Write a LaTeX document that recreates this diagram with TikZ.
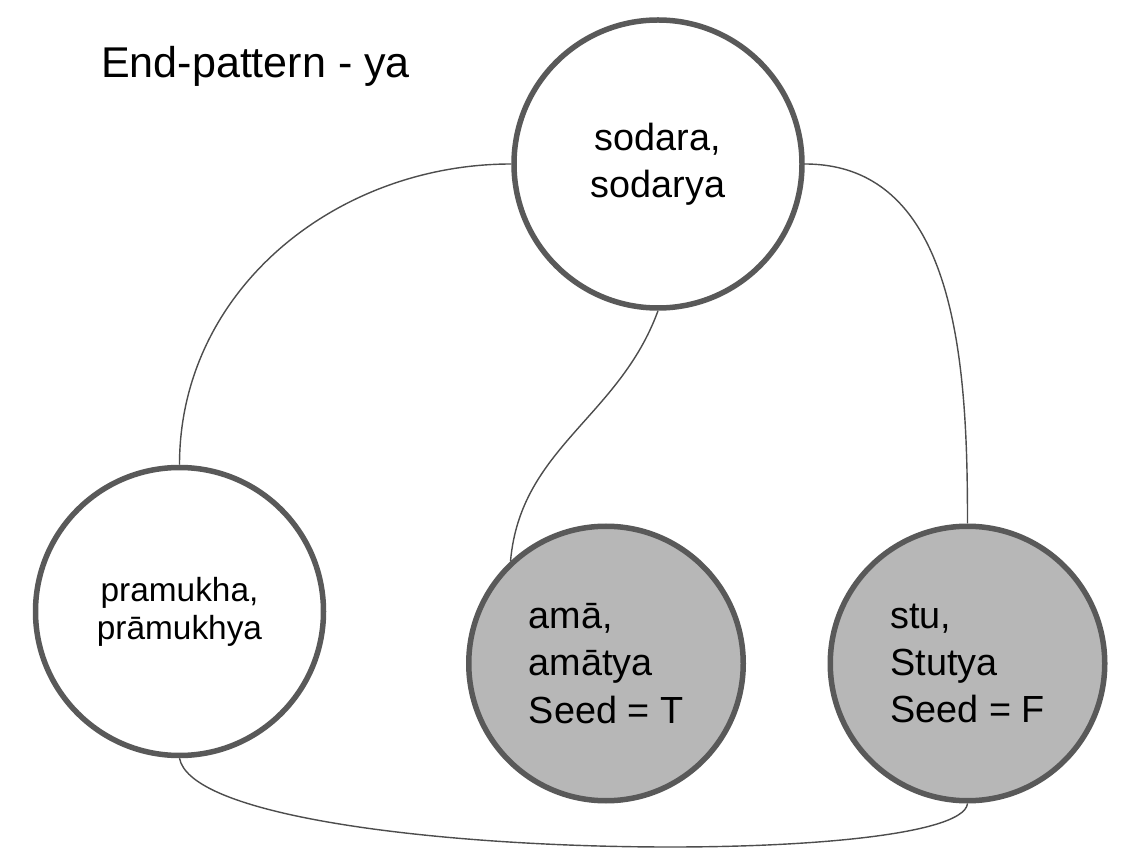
\documentclass[tikz,border=0pt]{standalone}
\usepackage{fontspec}
\setmainfont{Liberation Sans}
\usepackage{tikz}
\usetikzlibrary{calc,positioning}

\definecolor{rimgray}{HTML}{595959}
\definecolor{seedgray}{HTML}{B7B7B7}
\definecolor{edgegray}{HTML}{4D4D4D}

\begin{document}
\begin{tikzpicture}[
		wordnode/.style={circle, draw=rimgray, line width=1.1mm, fill=white, minimum size=5.76cm, inner sep=0pt, align=center, font=\fontsize{21.5}{27}\selectfont},
		seednode/.style={wordnode, fill=seedgray, minimum size=5.49cm, align=left},
		link/.style={draw=edgegray, line width=0.8pt}
	]
					\useasboundingbox (0,0) rectangle (22.54,-17.3);
					\coordinate (origin) at (0, 0);
					\node[anchor=base west, font=\fontsize{24.5}{29}\selectfont] (title) at ($(origin) + (1.9, -1.56)$) {End-pattern - ya};
					% white words
            		\node[wordnode] (sodara) at ($(origin) + (13.16, -3.28)$) {sodara,\\sodarya};
            		\node[wordnode, font=\fontsize{19}{21.5}\selectfont] (pramukha) at ($(origin) + (3.59, -12.23)$) {pramukha,\\prāmukhya};
					% seed words
            		\node[seednode] (ama) at ($(origin) + (12.12, -13.27)$) {amā,\\amātya\\Seed = T};
            		\node[seednode] (stu) at ($(origin) + (19.35, -13.27)$) {stu,\\Stutya\\Seed = F};
            		%\draw [link] (pramukha) -- (ama);
            		\draw [link] (sodara.west) to[out=180, in=90] (pramukha.north);
            		\draw [link] (sodara.east) to[out=0, in=90] (stu.north);
            		\draw [link] (sodara.south) to[out=-110, in=85] (ama.133);
            		\draw [link] (pramukha.south) .. controls +(0.4, -2.08) and +(-0.14, -1.36) .. (stu.south);

				\end{tikzpicture}
\end{document}
